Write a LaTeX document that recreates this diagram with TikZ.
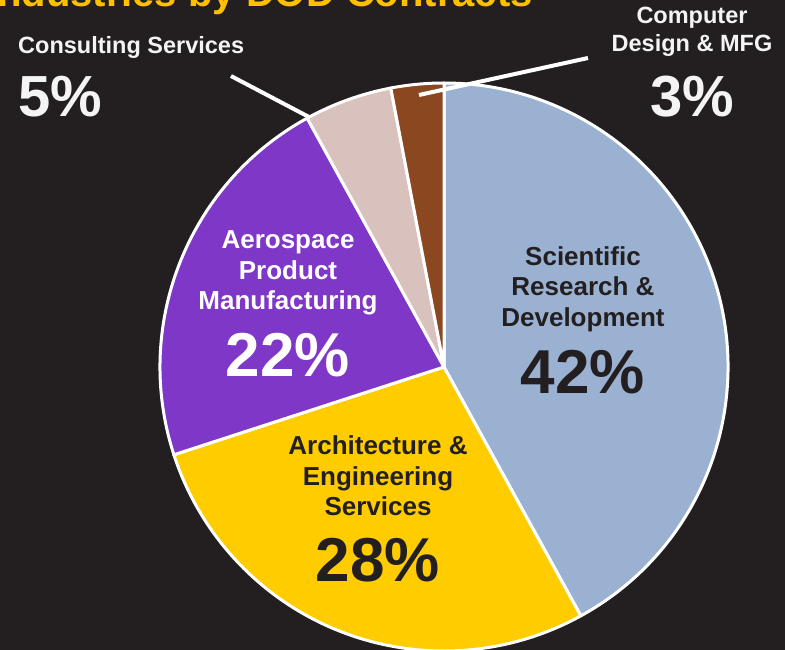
\documentclass[tikz,border=0pt]{standalone}
\usepackage{fontspec}
\setmainfont{Liberation Sans}
\usetikzlibrary{calc}
\definecolor{bg}{HTML}{231F20}
\definecolor{sci}{HTML}{9BB1D1}
\definecolor{arch}{HTML}{FFCC00}
\definecolor{aero}{HTML}{7E37C6}
\definecolor{cons}{HTML}{D9C2BD}
\definecolor{comp}{HTML}{8B471F}
\definecolor{ttl}{HTML}{FFC000}
\definecolor{dk}{HTML}{231F20}
\definecolor{wt}{HTML}{F4F4F4}
\tikzset{
  slice/.style={draw=white, line width=3pt, line join=round},
  lbl/.style={font=\bfseries\fontsize{26}{30.5}\selectfont, align=center, inner sep=0pt},
  pct/.style={font=\bfseries\fontsize{62}{62}\selectfont, inner sep=0pt},
  side/.style={font=\bfseries\fontsize{23.5}{28}\selectfont, inner sep=0pt, text=wt},
  sidepct/.style={font=\bfseries\fontsize{58}{58}\selectfont, inner sep=0pt, text=wt},
  leader/.style={draw=white, line width=4pt},
}
\begin{document}
\begin{tikzpicture}[x=1pt,y=1pt]
\fill[bg] (0,-650) rectangle (785,0);
\useasboundingbox (0,-650) rectangle (785,0);
\begin{scope}
\clip (0,-650) rectangle (785,0);
\coordinate (c) at (444,-367);
\def\r{284}
\filldraw[slice, fill=sci]  (c) -- ++(-61.2:\r) arc[start angle=-61.2, end angle=90, radius=\r] -- cycle;
\filldraw[slice, fill=arch] (c) -- ++(-162:\r) arc[start angle=-162, end angle=-61.2, radius=\r] -- cycle;
\filldraw[slice, fill=aero] (c) -- ++(118.8:\r) arc[start angle=118.8, end angle=198, radius=\r] -- cycle;
\filldraw[slice, fill=cons] (c) -- ++(100.8:\r) arc[start angle=100.8, end angle=118.8, radius=\r] -- cycle;
\filldraw[slice, fill=comp] (c) -- ++(90:\r) arc[start angle=90, end angle=100.8, radius=\r] -- cycle;

\node[anchor=base east, inner sep=0pt, text=ttl, font=\bfseries\fontsize{40}{40}\selectfont] (title) at (533,-7) {Industries by DOD Contracts};
\end{scope}

\node[lbl, text=dk] (scilbl) at (583,-289) {Scientific\\Research \&\\Development};
\node[pct, text=dk] (scipct) at (583,-372) {42\%};
\node[lbl, text=white] (aerolbl) at (288,-273) {Aerospace\\Product\\Manufacturing};
\node[pct, text=white] (aeropct) at (288,-355) {22\%};
\node[lbl, text=dk] (archlbl) at (378,-476) {Architecture \&\\Engineering\\Services};
\node[pct, text=dk] (archpct) at (378,-560) {28\%};

\node[side, anchor=west] (conslbl) at (18,-47) {Consulting Services};
\node[sidepct, anchor=west] (conspct) at (18,-97) {5\%};
\node[side, align=center] (complbl) at (692,-32) {Computer\\Design \& MFG};
\node[sidepct] (comppct) at (692,-97) {3\%};

\coordinate (consA) at (231,-76);
\coordinate (consB) at (309,-117);
\coordinate (compA) at (588,-58);
\coordinate (compB) at (419,-95);
\draw[leader] (consA) -- (consB);
\draw[leader] (compA) -- (compB);
\end{tikzpicture}
\end{document}
